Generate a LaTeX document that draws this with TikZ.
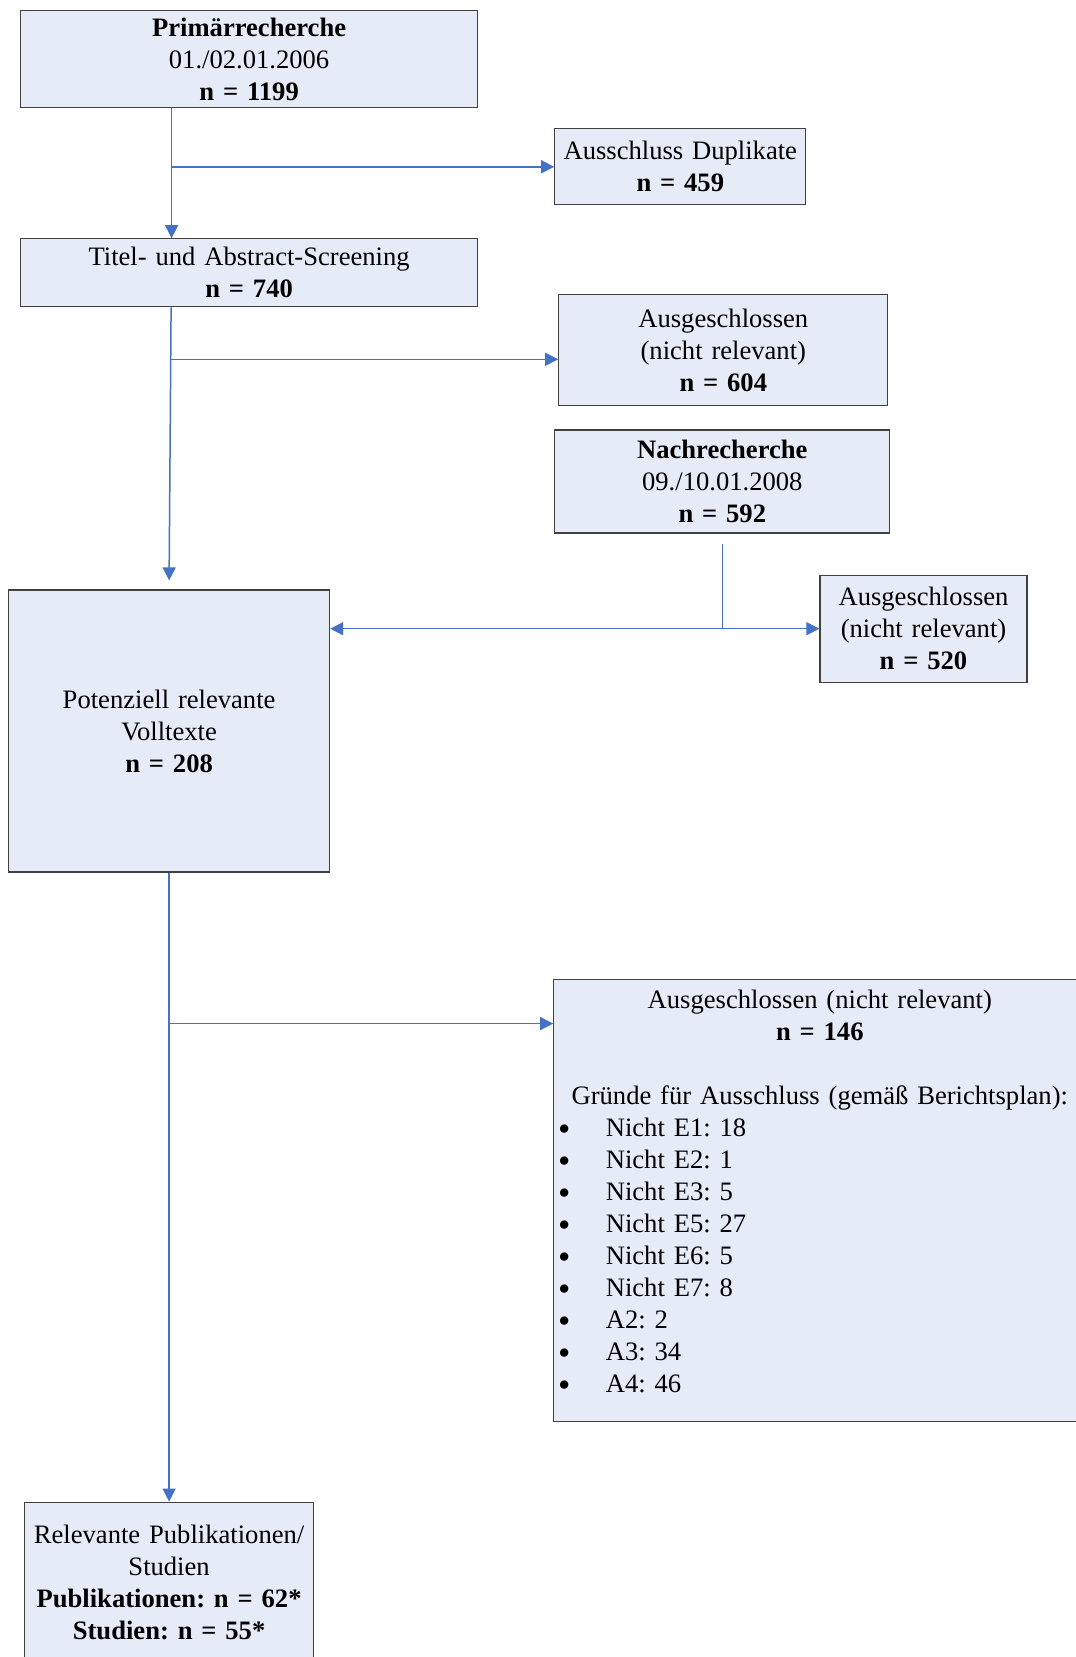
\documentclass[tikz,border=0pt]{standalone}
\usepackage{graphicx}
\usepackage{fontspec}
\setmainfont{Liberation Serif}
\usetikzlibrary{positioning, arrows.meta}
\definecolor{boxFill}{HTML}{E6ECF7}
\definecolor{boxBorder}{HTML}{404040}
\definecolor{arrowBlue}{HTML}{4472C4}
\tikzstyle{flowbox} =[draw=boxBorder, fill=boxFill, align=center, inner sep=0pt, line width=0.6pt, font=\fontsize{13.3pt}{16pt}\selectfont]
\tikzstyle{flowarrow} =[-{Triangle[length=6.5pt, width=6.5pt]}, line width=0.75pt, color=arrowBlue]
\tikzstyle{flowarrowboth} =[{Triangle[length=6.5pt, width=6.5pt]}-{Triangle[length=6.5pt, width=6.5pt]}, line width=0.75pt, color=arrowBlue]
\newcommand{\listItem}[1]{\makebox[266pt][l]{\hspace{2.5pt}\makebox[23.5pt][l]{\raisebox{0.9pt}{\scalebox{0.75}{$\bullet$}}}#1}}
\frenchspacing

\begin{document}
\begin{tikzpicture}
\useasboundingbox (0,0) rectangle (537.5pt,-828.5pt);

\node (prim) [flowbox, text width=228.5pt, minimum height=48.5pt, anchor=north west] at (10pt,-5pt) {\textbf{Primärrecherche}\\01./02.01.2006\\\textbf{n = 1199}};

\node (titel) [flowbox, text width=228.5pt, minimum height=34pt, below=65pt of prim] {Titel- und Abstract-Screening\\\textbf{n = 740}};

\node (dupl) [flowbox, text width=125.5pt, minimum height=38pt, below right=10pt and 38pt of prim.south east] {Ausschluss Duplikate\\\textbf{n = 459}};

\node (aus1) [flowbox, text width=164.5pt, minimum height=55.5pt, below right=28pt and 40pt of titel.north east] {Ausgeschlossen\\(nicht relevant)\\\textbf{n = 604}};

\node (nach) [flowbox, text width=167.5pt, minimum height=51.5pt, below right=11.5pt and -2pt of aus1.south west] {\textbf{Nachrecherche}\\09./10.01.2008\\\textbf{n = 592}};

\node (aus2) [flowbox, text width=103.5pt, minimum height=53.5pt, below right=20.5pt and -35.5pt of nach.south east] {Ausgeschlossen\\(nicht relevant)\\\textbf{n = 520}};

\node (pot) [flowbox, text width=160.5pt, minimum height=141pt, below right=141pt and -6pt of titel.south west] {Potenziell relevante\\Volltexte\\\textbf{n = 208}};

\node (aus3) [flowbox, text width=266pt, minimum height=221pt, below right=53pt and 111.5pt of pot.south east]
	{Ausgeschlossen (nicht relevant)\\\textbf{n = 146}\\[16pt]
	Gründe für Ausschluss (gemäß Berichtsplan):\\
	\listItem{Nicht E1: 18}\\
	\listItem{Nicht E2: 1}\\
	\listItem{Nicht E3: 5}\\
	\listItem{Nicht E5: 27}\\
	\listItem{Nicht E6: 5}\\
	\listItem{Nicht E7: 8}\\
	\listItem{A2: 2}\\
	\listItem{A3: 34}\\
	\listItem{A4: 46}\rule[-9pt]{0pt}{9pt}};

\node (rel) [flowbox, text width=144.5pt, minimum height=80pt, below=314.5pt of pot] {Relevante Publikationen/\\Studien\\\textbf{Publikationen: n = 62*}\\\textbf{Studien: n = 55*}};

%first search
\coordinate (split1) at ([xshift=-38.75pt]prim.south);
\draw[flowarrow]
	(split1) -- ([xshift=-38.75pt]titel.north);

\draw[flowarrow]
	(split1 |- dupl.west) -- (dupl.west);

%screening
\coordinate (split2) at ([xshift=-39pt]titel.south);
\coordinate (aus1In) at ([yshift=-4.5pt]aus1.west);
\draw[flowarrow]
	(split2) -- ([yshift=4.5pt]pot.north);

\draw[flowarrow]
	(split2 |- aus1In) -- (aus1In);

%second search
\draw[line width=0.75pt, color=arrowBlue]
	([yshift=-5pt]nach.south) -- (nach.south |- aus2.west);

\draw[flowarrowboth]
	(pot.east |- aus2.west) -- (aus2.west);

%full texts
\coordinate (aus3In) at ([yshift=-22.5pt]aus3.north west);
\draw[flowarrow]
	(pot.south) -- (rel.north);

\draw[flowarrow]
	(pot.south |- aus3In) -- (aus3In);
\end{tikzpicture}
\end{document}
